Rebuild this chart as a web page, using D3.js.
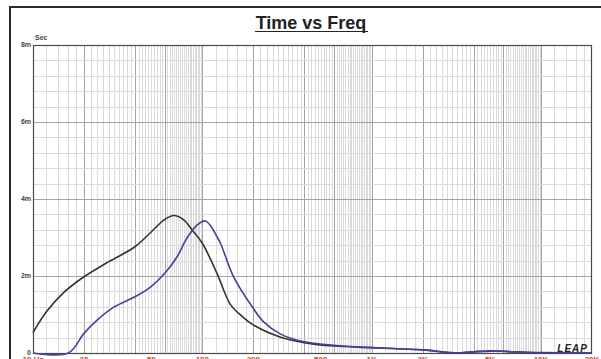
<!DOCTYPE html>
<html>
<head>
<meta charset="utf-8">
<script src="https://cdn.jsdelivr.net/npm/d3@7"></script>
<style>
  body { margin: 0; background: #fff; }
  svg { display: block; font-family: "Liberation Sans", Arial, sans-serif; }
</style>
</head>
<body>
<div id="chart"></div>
<script>
// data (ms)
const blackFreq = [10, 12, 15, 20, 27, 40, 49, 60, 68, 77, 88, 100, 122, 146, 170, 200, 290, 400, 600, 1000, 2000, 2800, 3200, 4000, 5100, 7000, 10000, 20000];
const blackVal  = [0.53, 1.07, 1.55, 1.98, 2.33, 2.76, 3.11, 3.47, 3.57, 3.47, 3.17, 2.85, 2.07, 1.27, 0.97, 0.73, 0.41, 0.27, 0.18, 0.14, 0.08, 0.02, 0, 0.03, 0.05, 0.03, 0.01, 0];

const blueFreq = [10, 16.2, 20, 24, 30, 40, 49, 60, 71, 81, 93, 104, 112, 122, 128, 153, 197, 230, 290, 400, 600, 1000, 2000, 2800, 3200, 4000, 5100, 7000, 10000, 20000];
const blueVal  = [0, 0, 0.51, 0.86, 1.19, 1.46, 1.7, 2.07, 2.5, 2.98, 3.32, 3.43, 3.3, 3.02, 2.85, 1.98, 1.2, 0.81, 0.49, 0.29, 0.2, 0.14, 0.08, 0.01, 0, 0.03, 0.06, 0.03, 0, 0];

const xTicks = [10, 20, 50, 100, 200, 500, 1000, 2000, 5000, 10000, 20000];
const xTickLabels = ["10 Hz", "20", "50", "100", "200", "500", "1K", "2K", "5K", "10K", "20K"];
const yTicks = [0, 2, 4, 6, 8];
const yTickLabels = ["0", "2m", "4m", "6m", "8m"];

const W = 601, H = 359;
const svg = d3.select("#chart").append("svg")
  .attr("width", W)
  .attr("height", H);

const margin = {top: 45, right: 9, bottom: 6, left: 33};
const width = W - margin.left - margin.right;
const height = H - margin.top - margin.bottom;

const x = d3.scaleLog().domain([10, 20000]).range([margin.left, margin.left + width]);
const y = d3.scaleLinear().domain([0, 8]).range([margin.top + height, margin.top]);

// outer frame
svg.append("path")
  .attr("d", `M10,${H} L10,7 L${W},7`)
  .attr("fill", "none")
  .attr("stroke", "#2a2a2a")
  .attr("stroke-width", 2);

// title
svg.append("text")
  .attr("x", 311)
  .attr("y", 29)
  .attr("text-anchor", "middle")
  .style("font-size", "18px")
  .style("font-weight", "bold")
  .attr("fill", "#222")
  .text("Time vs Freq");
svg.append("line")
  .attr("x1", 255).attr("x2", 368)
  .attr("y1", 31.5).attr("y2", 31.5)
  .attr("stroke", "#222")
  .attr("stroke-width", 1.2);

// grid
const grid = svg.append("g");
const gridFreqs = [];
for (let dec = 10; dec < 20000; dec *= 10) {
  for (let k = 5; k < 50; k++) {
    const m = k / 5;
    const f = dec * m;
    if (f > 10 && f < 20000) gridFreqs.push({f: f, m: m});
  }
}
gridFreqs.push({f: 100, m: 1}, {f: 1000, m: 1}, {f: 10000, m: 1});
grid.selectAll(".vg")
  .data(gridFreqs)
  .enter()
  .append("line")
  .attr("x1", d => Math.round(x(d.f)) + 0.5)
  .attr("x2", d => Math.round(x(d.f)) + 0.5)
  .attr("y1", margin.top)
  .attr("y2", margin.top + height)
  .attr("stroke", d => [1, 2, 4, 6].includes(d.m) ? "#a4a4a4" : "#dadada")
  .attr("stroke-width", 1);

const hLines = d3.range(1, 20).map(i => i * 0.4);
grid.selectAll(".hg")
  .data(hLines)
  .enter()
  .append("line")
  .attr("x1", margin.left)
  .attr("x2", margin.left + width)
  .attr("y1", d => Math.round(y(d)) + 0.5)
  .attr("y2", d => Math.round(y(d)) + 0.5)
  .attr("stroke", d => [2, 4, 6].some(v => Math.abs(v - d) < 0.01) ? "#a4a4a4" : "#dadada")
  .attr("stroke-width", 1);

// plot border
svg.append("rect")
  .attr("x", margin.left + 0.5)
  .attr("y", margin.top + 0.5)
  .attr("width", width - 1)
  .attr("height", height)
  .attr("fill", "none")
  .attr("stroke", "#4a4a4a")
  .attr("stroke-width", 1.2);

// y tick labels
svg.selectAll(".yl")
  .data(yTicks)
  .enter()
  .append("text")
  .attr("x", 31)
  .attr("y", d => y(d) + 2)
  .attr("text-anchor", "end")
  .style("font-size", "7px")
  .style("font-weight", "bold")
  .attr("fill", "#444")
  .text((d, i) => yTickLabels[i]);

svg.append("text")
  .attr("x", 35)
  .attr("y", 40)
  .style("font-size", "7px")
  .style("font-weight", "bold")
  .attr("fill", "#444")
  .text("Sec");

// x tick labels (cut off by the bottom edge, as in the original)
svg.selectAll(".xl")
  .data(xTicks)
  .enter()
  .append("text")
  .attr("x", d => x(d))
  .attr("y", 362)
  .attr("text-anchor", "middle")
  .style("font-size", "8px")
  .style("font-weight", "bold")
  .attr("fill", "#b2502e")
  .text((d, i) => xTickLabels[i]);

// curves
const line = d3.line()
  .x(d => x(d[0]))
  .y(d => Math.min(y(d[1]), margin.top + height))
  .curve(d3.curveCatmullRom.alpha(0.5));

svg.append("path")
  .datum(d3.zip(blackFreq, blackVal))
  .attr("fill", "none")
  .attr("stroke", "#333333")
  .attr("stroke-width", 1.6)
  .attr("d", line);

svg.append("path")
  .datum(d3.zip(blueFreq, blueVal))
  .attr("fill", "none")
  .attr("stroke", "#42429c")
  .attr("stroke-width", 1.6)
  .attr("d", line);

// LEAP logo
svg.append("text")
  .attr("x", 588)
  .attr("y", 352)
  .attr("text-anchor", "end")
  .style("font-size", "10px")
  .style("font-weight", "bold")
  .style("font-style", "italic")
  .style("letter-spacing", "1px")
  .attr("fill", "#222")
  .text("LEAP");
</script>
</body>
</html>
